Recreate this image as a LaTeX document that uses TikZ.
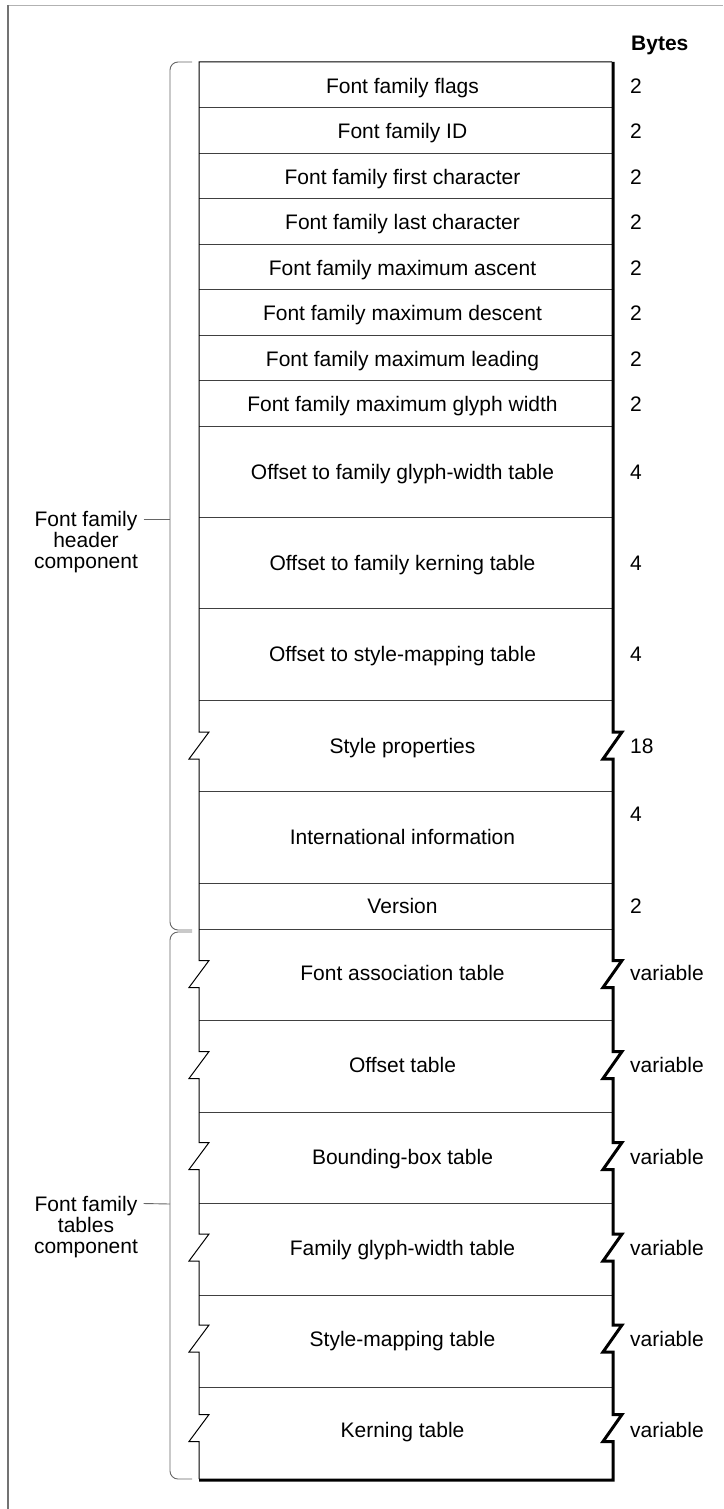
\documentclass[tikz,border=0pt]{standalone}
\usepackage{fontspec}
\setmainfont{Liberation Sans}
\begin{document}
\begin{tikzpicture}[x=1pt,y=-1pt,
  lbl/.style={font=\fontsize{21}{24}\selectfont, inner sep=0pt, text height=15pt, text depth=0pt},
  blbl/.style={lbl, anchor=west},
  divider/.style={line width=0.9pt, color=black!75},
  bracestyle/.style={line width=0.9pt, color=black!60, rounded corners=8pt},
  lzig/.style={insert path={-- (199,{#1-13.5}) -- (209,{#1-13.5}) -- (189,{#1+13.5}) -- (199,{#1+13.5})}},
  rzig/.style={insert path={-- (613,{#1-13.5}) -- (622,{#1-13.5}) -- (603,{#1+13.5}) -- (613,{#1+13.5})}},
]
\useasboundingbox (0,0) rectangle (723,1509);
% page frame
\draw[color=black!30, line width=1.5pt] (8,5.5) -- (723,5.5);
\draw[color=black!55, line width=1.5pt] (8,5) -- (8,1509);

% row dividers
\foreach \y in {107.5,153,198.5,244,289.5,335,380.5,426,517,608,700,791,883,929,1020.5,1112,1203.5,1295,1387}
  \draw[divider] (199,\y) -- (612,\y);

% table outline: top and left (thin)
\draw[line width=1pt, line join=miter] (612,62) -- (199,62)
  [lzig=745.5] [lzig=974] [lzig=1065] [lzig=1156] [lzig=1247.5] [lzig=1338.5] [lzig=1428]
  -- (199,1479);
% right and bottom (thick, shadowed)
\draw[line width=3pt, line join=miter] (613,62)
  [rzig=745.5] [rzig=974] [rzig=1065] [rzig=1156] [rzig=1247.5] [rzig=1338.5] [rzig=1428]
  -- (613,1480) -- (199,1480);

% column heading
\node[lbl, anchor=west, font=\fontsize{21}{24}\selectfont\bfseries] (bytes) at (631,43) {Bytes};

% header rows
\node[lbl] (r1) at (402.5,86) {Font family flags};
\node[lbl] (r2) at (402.5,131) {Font family ID};
\node[lbl] (r3) at (402.5,176.5) {Font family first character};
\node[lbl] (r4) at (402.5,222) {Font family last character};
\node[lbl] (r5) at (402.5,267.5) {Font family maximum ascent};
\node[lbl] (r6) at (402.5,313) {Font family maximum descent};
\node[lbl] (r7) at (402.5,358.5) {Font family maximum leading};
\node[lbl] (r8) at (402.5,404) {Font family maximum glyph width};
\node[lbl] (r9) at (402.5,471.5) {Offset to family glyph-width table};
\node[lbl] (r10) at (402.5,562.5) {Offset to family kerning table};
\node[lbl] (r11) at (402.5,654) {Offset to style-mapping table};
\node[lbl] (r12) at (402.5,746) {Style properties};
\node[lbl] (r13) at (402.5,837) {International information};
\node[lbl] (r14) at (402.5,905.7) {Version};
% tables rows
\node[lbl] (r15) at (402.5,973) {Font association table};
\node[lbl] (r16) at (402.5,1065) {Offset table};
\node[lbl] (r17) at (402.5,1157) {Bounding-box table};
\node[lbl] (r18) at (402.5,1248) {Family glyph-width table};
\node[lbl] (r19) at (402.5,1339) {Style-mapping table};
\node[lbl] (r20) at (402.5,1430) {Kerning table};

% byte counts
\node[blbl] (b1) at (630,86) {2};
\node[blbl] (b2) at (630,131) {2};
\node[blbl] (b3) at (630,176.5) {2};
\node[blbl] (b4) at (630,222) {2};
\node[blbl] (b5) at (630,267.5) {2};
\node[blbl] (b6) at (630,313) {2};
\node[blbl] (b7) at (630,358.5) {2};
\node[blbl] (b8) at (630,404) {2};
\node[blbl] (b9) at (630,471.5) {4};
\node[blbl] (b10) at (630,562.5) {4};
\node[blbl] (b11) at (630,654) {4};
\node[blbl] (b12) at (630,746) {18};
\node[blbl] (b13) at (630,814) {4};
\node[blbl] (b14) at (630,905.7) {2};
\node[blbl] (b15) at (630,973) {variable};
\node[blbl] (b16) at (630,1065) {variable};
\node[blbl] (b17) at (630,1157) {variable};
\node[blbl] (b18) at (630,1248) {variable};
\node[blbl] (b19) at (630,1339) {variable};
\node[blbl] (b20) at (630,1430) {variable};

% braces
\draw[bracestyle] (192,62) -- (170,62) -- (170,930) -- (192,930);
\draw[bracestyle] (192,932) -- (170,932) -- (170,1479) -- (192,1479);
\coordinate (hbm) at (170,519);
\coordinate (tbm) at (170,1204);

% brace labels
\node[lbl] (h1) at (86,519) {Font family};
\node[lbl] (h2) at (86,540) {header};
\node[lbl] (h3) at (86,561) {component};
\node[lbl] (t1) at (86,1203.5) {Font family};
\node[lbl] (t2) at (86,1224.5) {tables};
\node[lbl] (t3) at (86,1245.5) {component};
\draw[line width=0.9pt, color=black!60] ([xshift=6pt]h1.east) -- (hbm);
\draw[line width=0.9pt, color=black!60] ([xshift=6pt]t1.east) -- (tbm);
\end{tikzpicture}
\end{document}
